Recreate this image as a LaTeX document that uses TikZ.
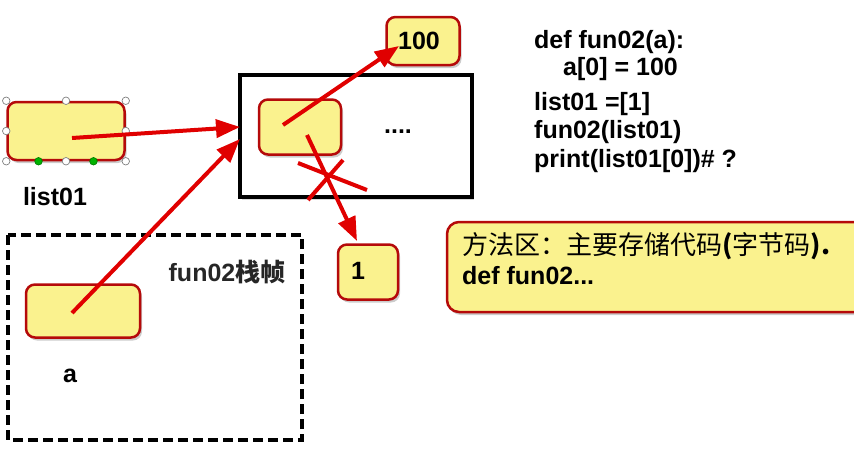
\documentclass[tikz,border=0pt]{standalone}
\usepackage{fontspec}
\setmainfont{Liberation Sans}
\newfontfamily\cjk{Noto Sans CJK SC}
\usetikzlibrary{arrows.meta,positioning,calc,shadows}

\definecolor{cellfill}{HTML}{FAF28E}
\definecolor{cellline}{HTML}{B50A0A}
\definecolor{refred}{HTML}{E00000}

\begin{document}
\begin{tikzpicture}[x=1pt,y=-1pt,
    cell/.style={draw=cellline, fill=cellfill, line width=2.5pt, rounded corners=9pt,
        drop shadow={opacity=0.4, shadow xshift=2pt, shadow yshift=-3pt}, inner sep=0pt},
    ref/.style={draw=refred, line width=4pt, -{Triangle[length=24pt,width=18pt]}},
    lbl/.style={font=\fontsize{25}{30}\selectfont\bfseries, inner sep=0pt},
    handle/.style={circle, draw=gray, fill=white, line width=0.7pt, inner sep=0pt, minimum size=7.5pt}]
    \useasboundingbox (0,0) rectangle (854,451);

    % list01
    \node[cell, minimum width=117pt, minimum height=58pt] (list01) at (66,131) {};
    \foreach \an in {north west,north,north east,west,east,south west,south,south east}
        \node[handle] at (list01.\an) {};
    \node[handle, draw=green!50!black, fill=green!70!black] at ($(list01.south west)!0.27!(list01.south east)$) {};
    \node[handle, draw=green!50!black, fill=green!70!black] at ($(list01.south west)!0.73!(list01.south east)$) {};
    \node[lbl] (list01lbl) at (55,197) {list01};

    % list object
    \node[draw, line width=3.5pt, minimum width=232pt, minimum height=122pt,
        drop shadow={opacity=0.3, shadow xshift=2pt, shadow yshift=-3pt}, fill=white] (obj) at (356,136) {};
    \node[cell, minimum width=82pt, minimum height=55pt] (inner) at (300,127) {};
    \node[lbl] (dots) at (398,132) {....};

    % values
    \node[cell, minimum width=73pt, minimum height=48pt] (hundred) at (423,41) {};
    \node[lbl] at (419,41) {100};
    \node[cell, minimum width=60pt, minimum height=55pt] (one) at (368,272) {};
    \node[lbl] at (358,271) {1};

    % fun02 frame
    \draw[line width=3.5pt, dash pattern=on 10pt off 5pt] (8,235) rectangle (302,440);
    \node[lbl, text=black!85] (framelbl) at (227,272) {fun02{\cjk 栈帧}};
    \node[cell, minimum width=114pt, minimum height=53pt] (a) at (83,311) {};
    \node[lbl] (albl) at (70,376) {a};

    % code
    \node[lbl, anchor=west] (code1) at (534,42) {def fun02(a):};
    \node[lbl, anchor=west] (code2) at (563,69) {a[0] = 100};
    \node[lbl, anchor=west] (code3) at (534,104) {list01 =[1]};
    \node[lbl, anchor=west] (code4) at (534,132) {fun02(list01)};
    \node[lbl, anchor=west] (code5) at (534,161) {print(list01[0])\# ?};

    % method area
    \begin{scope}
        \clip (0,0) rectangle (854,451);
        \draw[cellline, fill=cellfill, line width=2.5pt, rounded corners=12pt,
            drop shadow={opacity=0.4, shadow xshift=2pt, shadow yshift=-3pt}] (447,222) rectangle (880,312);
    \end{scope}
    \node[anchor=west, inner sep=0pt, font=\fontsize{26}{30}\selectfont] (method1) at (462,246)
        {\cjk 方法区：主要存储代码\textbf{(}字节码\textbf{).}};
    \node[lbl, anchor=west] (method2) at (462,276) {def fun02...};

    % references
    \coordinate (in1) at (240,127);
    \coordinate (in2) at (240,139);
    \coordinate (to100) at (399,46);
    \coordinate (to1) at (357,241);
    \draw[ref] ($(list01.center)+(6,7)$) -- (in1);
    \draw[ref] ($(a.center)+(-11,2)$) -- (in2);
    \draw[ref] ($(inner.center)+(-17,-2)$) -- (to100);
    \draw[ref] ($(inner.center)+(7,8)$) -- (to1);
    % cut
    \draw[refred, line width=4pt] (298,163) -- (367,190);
    \draw[refred, line width=4pt] (343,160) -- (308,200);
\end{tikzpicture}
\end{document}
